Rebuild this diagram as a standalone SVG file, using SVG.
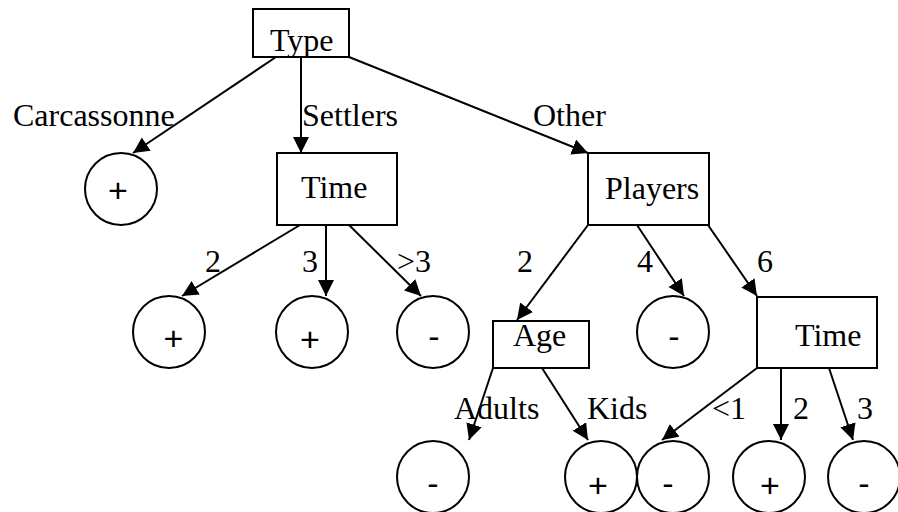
<svg xmlns="http://www.w3.org/2000/svg" width="898" height="512" viewBox="0 0 898 512">
<style>
text{font-family:"Liberation Serif","Times New Roman",serif;font-size:32px;fill:#000}
.box{fill:#fff;stroke:#000;stroke-width:2}
.leaf{fill:#fff;stroke:#000;stroke-width:2}
.sym{text-anchor:middle;font-family:"Liberation Sans",Arial,sans-serif;font-size:34px}
.edge{stroke:#000;stroke-width:2;fill:none;marker-end:url(#ah)}
</style>
<defs>
<marker id="ah" markerUnits="userSpaceOnUse" markerWidth="17" markerHeight="17" viewBox="0 0 17 17" refX="16" refY="8" orient="auto">
<path d="M0,0 L16,8 L0,16 Z" fill="#000"/>
</marker>
</defs>
<rect width="898" height="512" fill="#fff"/>
<g id="connectors">
<line class="edge" x1="276" y1="57" x2="133" y2="153"/>
<line class="edge" x1="301" y1="57" x2="301" y2="153"/>
<line class="edge" x1="349" y1="57" x2="588" y2="153"/>
<line class="edge" x1="300" y1="225" x2="182" y2="296"/>
<line class="edge" x1="326" y1="225" x2="326" y2="296"/>
<line class="edge" x1="349" y1="225" x2="421" y2="296"/>
<line class="edge" x1="588" y1="225" x2="517" y2="320"/>
<line class="edge" x1="637" y1="225" x2="684" y2="296"/>
<line class="edge" x1="708" y1="225" x2="757" y2="296"/>
<line class="edge" x1="493" y1="368" x2="469" y2="440"/>
<line class="edge" x1="542" y1="368" x2="588" y2="440"/>
<line class="edge" x1="757" y1="368" x2="662" y2="440"/>
<line class="edge" x1="781" y1="368" x2="781" y2="440"/>
<line class="edge" x1="829" y1="368" x2="853" y2="440"/>
</g>
<g id="labels">
<text x="13" y="126">Carcassonne</text>
<text x="302" y="126">Settlers</text>
<text x="533" y="126">Other</text>
<text x="205" y="272">2</text>
<text x="302" y="272">3</text>
<text x="397" y="272">&gt;3</text>
<text x="517" y="272">2</text>
<text x="637" y="272">4</text>
<text x="757" y="272">6</text>
<text x="454" y="419">Adults</text>
<text x="587" y="419">Kids</text>
<text x="712" y="419">&lt;1</text>
<text x="793" y="419">2</text>
<text x="857" y="419">3</text>
</g>
<g id="n-type"><rect class="box" x="253" y="9" width="96" height="48"/><text x="270" y="51">Type</text></g>
<g id="n-carc"><circle class="leaf" cx="121" cy="189" r="36"/><text class="sym" x="118" y="202">+</text></g>
<g id="n-time1"><rect class="box" x="277" y="153" width="120" height="72"/><text x="301" y="198">Time</text></g>
<g id="n-players"><rect class="box" x="588" y="153" width="121" height="72"/><text x="605" y="199">Players</text></g>
<g id="n-t2"><circle class="leaf" cx="169" cy="332" r="36"/><text class="sym" x="173.5" y="350">+</text></g>
<g id="n-t3"><circle class="leaf" cx="312" cy="332" r="36"/><text class="sym" x="310" y="351">+</text></g>
<g id="n-tgt3"><circle class="leaf" cx="433" cy="332" r="36"/><text class="sym" x="434" y="348">-</text></g>
<g id="n-age"><rect class="box" x="493" y="321" width="96" height="47"/><text x="513" y="346">Age</text></g>
<g id="n-p4"><circle class="leaf" cx="673" cy="332" r="36"/><text class="sym" x="674" y="348">-</text></g>
<g id="n-time2"><rect class="box" x="757" y="297" width="120" height="71"/><text x="795" y="346">Time</text></g>
<g id="n-adults"><circle class="leaf" cx="433" cy="477" r="36"/><text class="sym" x="433" y="495">-</text></g>
<g id="n-kids"><circle class="leaf" cx="601" cy="477" r="36"/><text class="sym" x="598" y="497">+</text></g>
<g id="n-lt1"><circle class="leaf" cx="673" cy="477" r="36"/><text class="sym" x="668" y="495">-</text></g>
<g id="n-2"><circle class="leaf" cx="769" cy="477" r="36"/><text class="sym" x="770" y="497">+</text></g>
<g id="n-3"><circle class="leaf" cx="864" cy="477" r="36"/><text class="sym" x="864" y="495">-</text></g>
</svg>
